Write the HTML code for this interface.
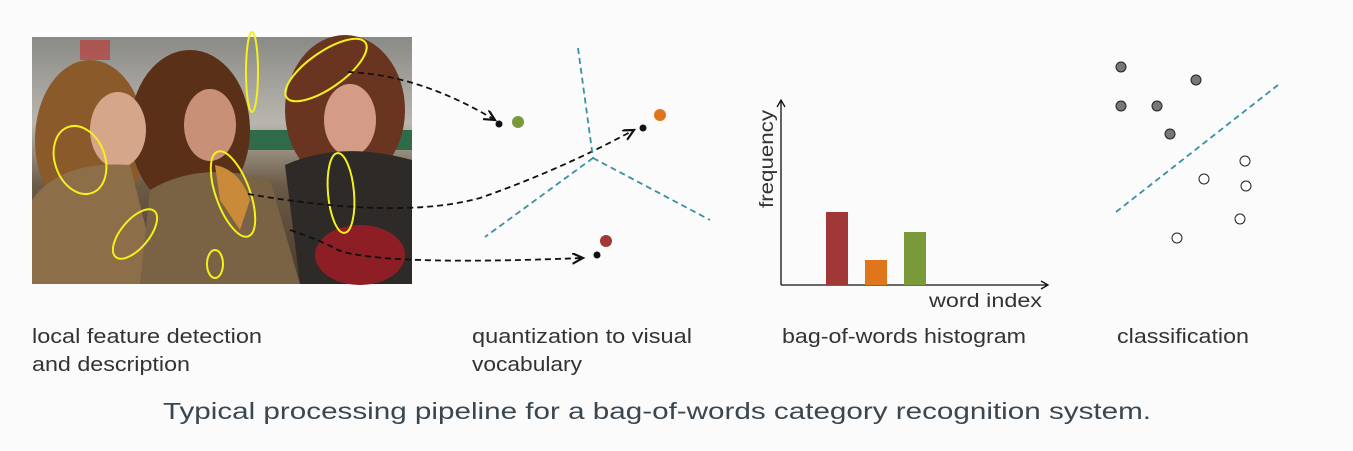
<!DOCTYPE html>
<html><head><meta charset="utf-8"><style>
body{margin:0;background:#fbfbfb;width:1353px;height:451px;overflow:hidden;font-family:"Liberation Sans",sans-serif}
svg{position:absolute;left:0;top:0}
</style></head><body>
<svg width="1353" height="451" viewBox="0 0 1353 451">
<defs>
<linearGradient id="sky" x1="0" y1="0" x2="0" y2="1"><stop offset="0" stop-color="#8a8a86"/><stop offset="0.35" stop-color="#b9b6ae"/><stop offset="0.6" stop-color="#6b5a45"/><stop offset="1" stop-color="#4a3a2a"/></linearGradient>
<marker id="ah" markerWidth="8" markerHeight="8" refX="6" refY="3" orient="auto"><path d="M0,0 L6,3 L0,6" fill="none" stroke="#111" stroke-width="1.2"/></marker>
</defs>
<g>
<rect x="32" y="37" width="380" height="247" fill="url(#sky)"/>
<rect x="230" y="130" width="182" height="20" fill="#2f6b48"/>
<ellipse cx="90" cy="140" rx="55" ry="80" fill="#8a5a2a"/>
<ellipse cx="190" cy="130" rx="60" ry="80" fill="#5a3018"/>
<ellipse cx="345" cy="110" rx="60" ry="75" fill="#6a3520"/>
<ellipse cx="118" cy="130" rx="28" ry="38" fill="#d6a68a"/>
<ellipse cx="210" cy="125" rx="26" ry="36" fill="#c99078"/>
<ellipse cx="350" cy="120" rx="26" ry="36" fill="#d49c86"/>
<path d="M32 200 Q60 160 130 165 L160 284 L32 284Z" fill="#8c6e48"/>
<path d="M150 190 Q200 160 270 180 L300 284 L140 284Z" fill="#7a6244"/>
<path d="M285 165 Q340 140 412 160 L412 284 L300 284Z" fill="#2d2a28"/>
<path d="M215 165 Q240 170 250 200 L240 230 L220 200Z" fill="#c98a3a"/>
<ellipse cx="360" cy="255" rx="45" ry="30" fill="#8e1e26"/>
<rect x="80" y="40" width="30" height="20" fill="#c03030" opacity="0.6"/>
</g>
<g fill="none" stroke="#f5f01a" stroke-width="2">
<ellipse cx="80" cy="160" rx="35" ry="25" transform="rotate(70 80 160)"/>
<ellipse cx="252" cy="72" rx="40" ry="6" transform="rotate(90 252 72)"/>
<ellipse cx="326" cy="70" rx="48" ry="18" transform="rotate(-35 326 70)"/>
<ellipse cx="233" cy="194" rx="45" ry="17" transform="rotate(70 233 194)"/>
<ellipse cx="341" cy="193" rx="40" ry="13" transform="rotate(85 341 193)"/>
<ellipse cx="135" cy="234" rx="30" ry="14" transform="rotate(-50 135 234)"/>
<ellipse cx="215" cy="264" rx="14" ry="8" transform="rotate(90 215 264)"/>
</g>
<g fill="none" stroke="#111" stroke-width="1.8" stroke-dasharray="6,4">
<path d="M348 72 Q420 75 495 120" marker-end="url(#ah)"/>
<path d="M248 194 Q400 220 480 198 Q560 170 634 130" marker-end="url(#ah)"/>
<path d="M290 230 Q320 240 338 250 Q380 266 583 258" marker-end="url(#ah)"/>
</g>
<g stroke="#3a8fa3" stroke-width="1.8" stroke-dasharray="6,4" fill="none">
<line x1="578" y1="48" x2="593" y2="158"/><line x1="593" y1="158" x2="485" y2="237"/><line x1="593" y1="158" x2="710" y2="220"/>
</g>
<g>
<circle cx="499" cy="124" r="3.5" fill="#111"/><circle cx="518" cy="122" r="6" fill="#7a9a3a"/>
<circle cx="643" cy="128" r="3.5" fill="#111"/><circle cx="660" cy="115" r="6" fill="#e0761c"/>
<circle cx="597" cy="255" r="3.5" fill="#111"/><circle cx="606" cy="241" r="6" fill="#a03838"/>
</g>
<g id="hist"></g>
<g>
<line x1="1116" y1="212" x2="1278" y2="85" stroke="#3a8fa3" stroke-width="1.8" stroke-dasharray="6,4"/>
<g fill="#777" stroke="#222" stroke-width="1">
<circle cx="1121" cy="67" r="5"/><circle cx="1196" cy="80" r="5"/><circle cx="1121" cy="106" r="5"/><circle cx="1157" cy="106" r="5"/><circle cx="1170" cy="134" r="5"/>
</g>
<g fill="#fff" stroke="#222" stroke-width="1">
<circle cx="1245" cy="161" r="5"/><circle cx="1204" cy="179" r="5"/><circle cx="1246" cy="186" r="5"/><circle cx="1240" cy="219" r="5"/><circle cx="1177" cy="238" r="5"/>
</g>
</g>
<g font-size="20" fill="#333">
<text x="32" y="343" textLength="230" lengthAdjust="spacingAndGlyphs">local feature detection</text>
<text x="32" y="371" textLength="158" lengthAdjust="spacingAndGlyphs">and description</text>
<text x="472" y="343" textLength="220" lengthAdjust="spacingAndGlyphs">quantization to visual</text>
<text x="472" y="371" textLength="110" lengthAdjust="spacingAndGlyphs">vocabulary</text>
<text x="782" y="343" textLength="244" lengthAdjust="spacingAndGlyphs">bag-of-words histogram</text>
<text x="1117" y="343" textLength="132" lengthAdjust="spacingAndGlyphs">classification</text>
</g>
<text x="163" y="419" font-size="23" fill="#3a4650" textLength="988" lengthAdjust="spacingAndGlyphs">Typical processing pipeline for a bag-of-words category recognition system.</text>
</svg>
<script>
const categories=["word1","word2","word3"];
const values=[73,25,53];
const colors=["#a03838","#e0761c","#7a9a3a"];
const ns="http://www.w3.org/2000/svg";
const g=document.getElementById('hist');
const x0=781,y0=285,yTop=100,xEnd=1048;
const yS=v=>y0-v;
const xS=i=>826+i*39;
function mk(t,a){const e=document.createElementNS(ns,t);for(const k in a)e.setAttribute(k,a[k]);g.appendChild(e);return e;}
const ya=mk('path',{d:`M${x0} ${y0} L${x0} ${yTop} M${x0-4} ${yTop+7} L${x0} ${yTop} L${x0+4} ${yTop+7}`,stroke:'#111',fill:'none','stroke-width':1.3});


const xa=mk('path',{d:`M${x0} ${y0} L${xEnd} ${y0} M${xEnd-7} ${y0-4} L${xEnd} ${y0} L${xEnd-7} ${y0+4}`,stroke:'#111',fill:'none','stroke-width':1.3});


values.forEach((v,i)=>{
 const r=mk('rect',{x:xS(i),y:yS(v),width:22,height:y0-yS(v),fill:colors[i]});
 
 
});
const yt=mk('text',{x:0,y:0,'font-size':19,fill:'#333',textLength:98,lengthAdjust:'spacingAndGlyphs',transform:'translate(773 208) rotate(-90)'});
yt.textContent='frequency';


const xt=mk('text',{x:929,y:307,'font-size':19,fill:'#333',textLength:113,lengthAdjust:'spacingAndGlyphs'});
xt.textContent='word index';


</script>
</body></html>
